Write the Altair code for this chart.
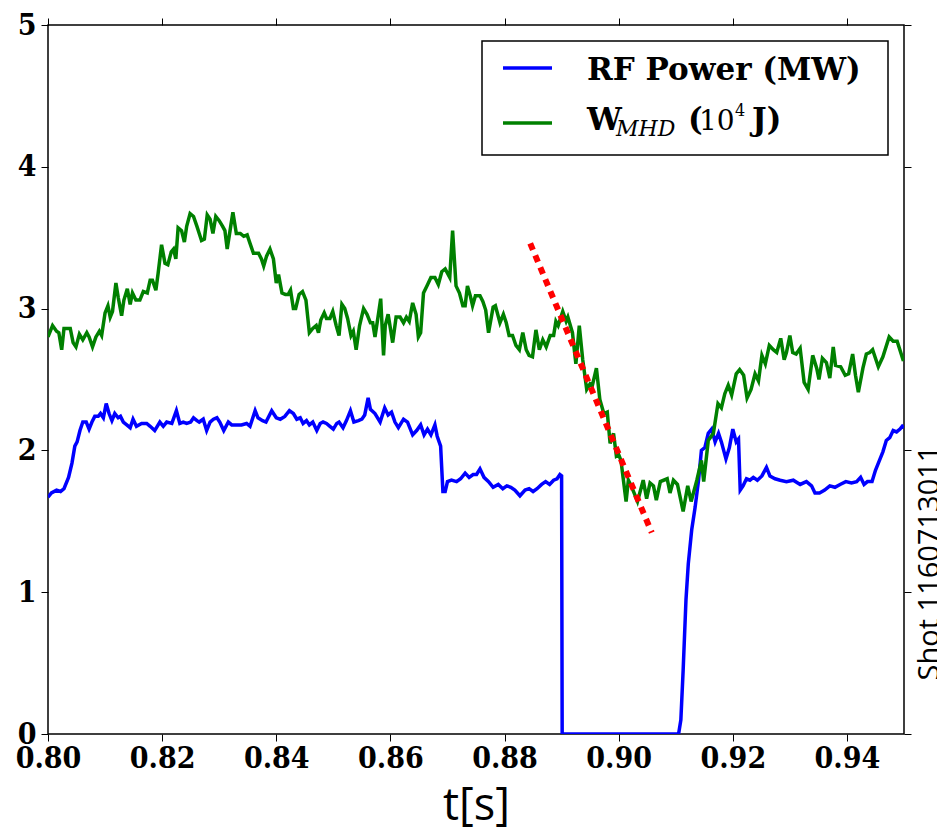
import altair as alt
import pandas as pd

# ---------------- data ----------------
t_rf = [0.8000, 0.8006, 0.8015, 0.8022, 0.8028, 0.8036, 0.8042, 0.8047, 0.8051, 0.8056,
        0.8061, 0.8067, 0.8072, 0.8077, 0.8082, 0.8088, 0.8092, 0.8097, 0.8102, 0.8107,
        0.8112, 0.8117, 0.8123, 0.8127, 0.8132, 0.8138, 0.8144, 0.8149, 0.8155, 0.8164,
        0.8173, 0.8179, 0.8187, 0.8196, 0.8202, 0.8208, 0.8217, 0.8225, 0.8231, 0.8237,
        0.8243, 0.8250, 0.8255, 0.8261, 0.8265, 0.8272, 0.8278, 0.8284, 0.8290, 0.8296,
        0.8301, 0.8308, 0.8316, 0.8322, 0.8331, 0.8339, 0.8348, 0.8354, 0.8363, 0.8368,
        0.8376, 0.8382, 0.8392, 0.8400, 0.8407, 0.8415, 0.8423, 0.8430, 0.8436, 0.8442,
        0.8447, 0.8453, 0.8458, 0.8464, 0.8471, 0.8477, 0.8482, 0.8488, 0.8494, 0.8500,
        0.8506, 0.8510, 0.8517, 0.8523, 0.8530, 0.8536, 0.8544, 0.8550, 0.8555, 0.8561,
        0.8565, 0.8573, 0.8582, 0.8590, 0.8596, 0.8602, 0.8608, 0.8614, 0.8623, 0.8630,
        0.8639, 0.8646, 0.8653, 0.8659, 0.8665, 0.8671, 0.8678, 0.8682, 0.8688, 0.8692,
        0.8696, 0.8700, 0.8707, 0.8716, 0.8723, 0.8731, 0.8738, 0.8745, 0.8751, 0.8757,
        0.8764, 0.8772, 0.8780, 0.8789, 0.8797, 0.8804, 0.8811, 0.8818, 0.8827, 0.8836,
        0.8843, 0.8850, 0.8857, 0.8865, 0.8872, 0.8879, 0.8886, 0.8892, 0.8897, 0.8900,
        0.8901, 0.9000, 0.9105, 0.9109, 0.9113, 0.9118, 0.9122, 0.9128, 0.9134, 0.9140,
        0.9145, 0.9151, 0.9157, 0.9163, 0.9169, 0.9175, 0.9180, 0.9188, 0.9194, 0.9200,
        0.9206, 0.9210, 0.9213, 0.9218, 0.9224, 0.9230, 0.9236, 0.9243, 0.9251, 0.9259,
        0.9265, 0.9274, 0.9283, 0.9294, 0.9306, 0.9318, 0.9329, 0.9338, 0.9344, 0.9352,
        0.9361, 0.9370, 0.9379, 0.9388, 0.9398, 0.9408, 0.9417, 0.9424, 0.9430, 0.9436,
        0.9444, 0.9450, 0.9457, 0.9463, 0.9469, 0.9475, 0.9481, 0.9487, 0.9493, 0.9497,
        0.9500]
p_rf = [1.67, 1.70, 1.72, 1.71, 1.73, 1.81, 1.91, 2.03, 2.06, 2.14,
        2.20, 2.20, 2.15, 2.20, 2.24, 2.24, 2.26, 2.23, 2.33, 2.26,
        2.21, 2.26, 2.23, 2.24, 2.20, 2.18, 2.16, 2.22, 2.17, 2.19,
        2.19, 2.17, 2.14, 2.20, 2.17, 2.20, 2.19, 2.28, 2.19, 2.20,
        2.19, 2.20, 2.23, 2.21, 2.20, 2.22, 2.14, 2.20, 2.22, 2.23,
        2.20, 2.14, 2.20, 2.18, 2.18, 2.18, 2.19, 2.17, 2.28, 2.23,
        2.21, 2.20, 2.28, 2.23, 2.22, 2.24, 2.28, 2.26, 2.22, 2.23,
        2.19, 2.21, 2.18, 2.20, 2.14, 2.19, 2.20, 2.19, 2.17, 2.15,
        2.19, 2.20, 2.16, 2.21, 2.28, 2.20, 2.21, 2.22, 2.25, 2.37,
        2.29, 2.26, 2.20, 2.30, 2.25, 2.27, 2.20, 2.16, 2.22, 2.20,
        2.11, 2.14, 2.18, 2.11, 2.15, 2.11, 2.18, 2.10, 2.03, 1.71,
        1.71, 1.78, 1.79, 1.78, 1.80, 1.84, 1.81, 1.83, 1.83, 1.87,
        1.81, 1.78, 1.74, 1.76, 1.73, 1.75, 1.74, 1.72, 1.68, 1.72,
        1.73, 1.71, 1.73, 1.76, 1.78, 1.76, 1.79, 1.80, 1.83, 1.82,
        0.00, 0.00, 0.00, 0.10, 0.45, 0.95, 1.20, 1.44, 1.60, 1.79,
        2.00, 2.02, 2.12, 2.15, 2.06, 2.12, 2.06, 1.94, 2.02, 2.15,
        2.06, 2.08, 1.72, 1.75, 1.80, 1.79, 1.81, 1.79, 1.82, 1.88,
        1.82, 1.80, 1.79, 1.78, 1.79, 1.76, 1.78, 1.75, 1.70, 1.70,
        1.72, 1.75, 1.74, 1.76, 1.78, 1.77, 1.78, 1.81, 1.76, 1.78,
        1.78, 1.86, 1.93, 1.99, 2.07, 2.09, 2.14, 2.13, 2.15, 2.17,
        2.16]

t_w = [0.8000, 0.8008, 0.8015, 0.8019, 0.8024, 0.8028, 0.8039, 0.8044, 0.8049, 0.8055,
       0.8061, 0.8068, 0.8072, 0.8078, 0.8084, 0.8090, 0.8094, 0.8100, 0.8105, 0.8109,
       0.8113, 0.8119, 0.8123, 0.8129, 0.8133, 0.8139, 0.8144, 0.8148, 0.8154, 0.8161,
       0.8167, 0.8174, 0.8179, 0.8183, 0.8189, 0.8193, 0.8199, 0.8205, 0.8210, 0.8216,
       0.8220, 0.8224, 0.8228, 0.8234, 0.8239, 0.8243, 0.8249, 0.8255, 0.8261, 0.8265,
       0.8269, 0.8274, 0.8279, 0.8284, 0.8289, 0.8294, 0.8300, 0.8306, 0.8310, 0.8314,
       0.8319, 0.8324, 0.8330, 0.8337, 0.8343, 0.8349, 0.8354, 0.8360, 0.8369, 0.8374,
       0.8378, 0.8383, 0.8389, 0.8395, 0.8400, 0.8404, 0.8410, 0.8416, 0.8421, 0.8425,
       0.8430, 0.8434, 0.8440, 0.8446, 0.8452, 0.8458, 0.8464, 0.8470, 0.8474, 0.8478,
       0.8484, 0.8488, 0.8494, 0.8499, 0.8505, 0.8510, 0.8515, 0.8520, 0.8525, 0.8531,
       0.8535, 0.8540, 0.8546, 0.8553, 0.8559, 0.8565, 0.8569, 0.8573, 0.8579, 0.8583,
       0.8588, 0.8591, 0.8596, 0.8604, 0.8610, 0.8617, 0.8623, 0.8628, 0.8633, 0.8639,
       0.8645, 0.8649, 0.8653, 0.8658, 0.8664, 0.8671, 0.8678, 0.8684, 0.8690, 0.8696,
       0.8704, 0.8709, 0.8715, 0.8721, 0.8727, 0.8731, 0.8735, 0.8740, 0.8744, 0.8749,
       0.8757, 0.8762, 0.8767, 0.8772, 0.8780, 0.8784, 0.8792, 0.8798, 0.8803, 0.8808,
       0.8814, 0.8820, 0.8826, 0.8832, 0.8838, 0.8843, 0.8849, 0.8855, 0.8861, 0.8867,
       0.8873, 0.8880, 0.8886, 0.8890, 0.8894, 0.8902, 0.8908, 0.8911, 0.8919, 0.8925,
       0.8931, 0.8937, 0.8944, 0.8950, 0.8954, 0.8961, 0.8967, 0.8974, 0.8980, 0.8985,
       0.8991, 0.8996, 0.9000, 0.9004, 0.9013, 0.9017, 0.9022, 0.9027, 0.9033, 0.9043,
       0.9049, 0.9055, 0.9061, 0.9066, 0.9073, 0.9085, 0.9090, 0.9096, 0.9103, 0.9113,
       0.9121, 0.9127, 0.9137, 0.9145, 0.9149, 0.9157, 0.9166, 0.9174, 0.9180, 0.9186,
       0.9192, 0.9198, 0.9206, 0.9212, 0.9219, 0.9225, 0.9232, 0.9239, 0.9245, 0.9251,
       0.9257, 0.9264, 0.9271, 0.9277, 0.9284, 0.9290, 0.9294, 0.9300, 0.9305, 0.9311,
       0.9318, 0.9325, 0.9332, 0.9340, 0.9347, 0.9351, 0.9357, 0.9364, 0.9370, 0.9376,
       0.9380, 0.9389, 0.9397, 0.9403, 0.9410, 0.9415, 0.9420, 0.9428, 0.9434, 0.9440,
       0.9445, 0.9455, 0.9463, 0.9474, 0.9481, 0.9488, 0.9499]
w_mhd = [2.80, 2.88, 2.84, 2.83, 2.71, 2.86, 2.86, 2.76, 2.73, 2.82,
         2.78, 2.83, 2.80, 2.73, 2.80, 2.84, 2.81, 2.97, 3.02, 2.94,
         2.98, 3.18, 3.08, 2.95, 3.06, 3.14, 3.03, 3.11, 3.06, 3.06,
         3.12, 3.11, 3.20, 3.20, 3.13, 3.25, 3.45, 3.32, 3.31, 3.40,
         3.42, 3.35, 3.57, 3.55, 3.47, 3.58, 3.67, 3.65, 3.58, 3.53,
         3.48, 3.49, 3.66, 3.63, 3.53, 3.65, 3.62, 3.58, 3.55, 3.42,
         3.55, 3.68, 3.53, 3.53, 3.51, 3.52, 3.46, 3.39, 3.39, 3.35,
         3.30, 3.37, 3.42, 3.35, 3.18, 3.24, 3.11, 3.10, 3.10, 3.13,
         3.00, 3.00, 3.10, 3.12, 3.06, 2.83, 2.86, 2.88, 2.83, 2.92,
         2.97, 2.93, 2.93, 2.98, 2.88, 2.81, 3.03, 3.00, 2.93, 2.81,
         2.84, 2.71, 2.88, 3.00, 2.96, 2.90, 2.90, 2.80, 2.96, 3.07,
         2.67, 2.88, 2.96, 2.76, 2.94, 2.94, 2.90, 2.94, 2.91, 3.04,
         2.96, 2.80, 2.83, 3.11, 3.16, 3.22, 3.22, 3.17, 3.26, 3.28,
         3.22, 3.55, 3.16, 3.11, 3.02, 3.02, 3.16, 3.09, 3.02, 3.09,
         3.09, 3.05, 2.99, 2.83, 3.01, 3.02, 2.90, 2.96, 2.90, 2.81,
         2.81, 2.74, 2.71, 2.83, 2.71, 2.67, 2.66, 2.85, 2.71, 2.78,
         2.73, 2.81, 2.81, 2.91, 2.88, 2.98, 2.91, 2.94, 2.83, 2.61,
         2.88, 2.64, 2.43, 2.47, 2.46, 2.58, 2.36, 2.26, 2.27, 2.05,
         2.12, 1.96, 1.97, 1.93, 1.64, 1.79, 1.75, 1.70, 1.64, 1.79,
         1.66, 1.77, 1.75, 1.65, 1.78, 1.80, 1.70, 1.79, 1.76, 1.57,
         1.75, 1.64, 1.79, 1.93, 1.78, 2.07, 2.12, 2.33, 2.30, 2.40,
         2.46, 2.39, 2.54, 2.57, 2.53, 2.37, 2.43, 2.54, 2.49, 2.67,
         2.61, 2.74, 2.71, 2.69, 2.79, 2.64, 2.69, 2.81, 2.69, 2.68,
         2.72, 2.48, 2.43, 2.67, 2.58, 2.50, 2.65, 2.62, 2.51, 2.73,
         2.60, 2.59, 2.53, 2.54, 2.68, 2.53, 2.41, 2.58, 2.68, 2.69,
         2.71, 2.59, 2.66, 2.80, 2.77, 2.77, 2.63]

t_fit = [0.8845, 0.9058]
w_fit = [3.46, 1.42]

x_ticks = [0.80, 0.82, 0.84, 0.86, 0.88, 0.90, 0.92, 0.94]
y_ticks = [0, 1, 2, 3, 4, 5]

legend_rf = "RF Power (MW)"
shot_label = "Shot  1160713011"

# ---------------- chart ----------------
W, H = 856, 709
SERIF_C = "DejaVu Serif Condensed, DejaVu Serif, serif"
SERIF = "DejaVu Serif, serif"

df_rf = pd.DataFrame({"t": t_rf, "v": p_rf})
df_w = pd.DataFrame({"t": t_w, "v": w_mhd})
df_fit = pd.DataFrame({"t": t_fit, "v": w_fit})
one = pd.DataFrame({"a": [0]})

xs = alt.Scale(domain=[0.80, 0.95], nice=False, zero=False)
ys = alt.Scale(domain=[0, 5], nice=False, zero=False)

xax = alt.Axis(values=x_ticks, format=".2f", title="t[s]", domain=False,
               tickSize=7, tickColor="black", tickWidth=1, grid=False,
               labelFont=SERIF_C, labelFontWeight="bold", labelFontSize=30,
               labelColor="black", labelPadding=2, labelFlush=False,
               titleFont="Open Sans", titleFontWeight="normal", titleFontSize=45,
               titleColor="black", titlePadding=10)
yax = alt.Axis(values=y_ticks, format="d", title=None, domain=False,
               tickSize=7, tickColor="black", tickWidth=1, grid=False,
               labelFont=SERIF_C, labelFontWeight="bold", labelFontSize=30,
               labelColor="black", labelPadding=5, labelFlush=False)


def series(df, color, width, dash=None):
    kw = dict(color=color, strokeWidth=width, clip=True)
    if dash:
        kw["strokeDash"] = dash
    return alt.Chart(df).mark_line(**kw).encode(
        x=alt.X("t:Q", scale=xs, axis=xax),
        y=alt.Y("v:Q", scale=ys, axis=yax),
    )


main = alt.layer(
    series(df_rf, "#0000ff", 3.5),
    series(df_w, "#008000", 3.5),
    series(df_fit, "#ff0000", 6, [7, 6]),
)

mirror = alt.Chart(df_fit).mark_point(opacity=0).encode(
    x=alt.X("t:Q", scale=xs, axis=alt.Axis(orient="top", values=x_ticks, labels=False,
                                           title=None, domain=False, tickSize=7,
                                           tickColor="black", grid=False)),
    y=alt.Y("v:Q", scale=ys, axis=alt.Axis(orient="right", values=y_ticks, labels=False,
                                           title=None, domain=False, tickSize=7,
                                           tickColor="black", grid=False)),
)

# manual legend (box + swatches + rich text)
box = alt.Chart(one).mark_rect(fill="white", stroke="black", strokeWidth=1.5).encode(
    x=alt.value(434), x2=alt.value(840), y=alt.value(16), y2=alt.value(130))
sw_rf = alt.Chart(one).mark_rule(color="#0000ff", strokeWidth=3.5).encode(
    x=alt.value(455), x2=alt.value(504), y=alt.value(43))
sw_w = alt.Chart(one).mark_rule(color="#008000", strokeWidth=3.5).encode(
    x=alt.value(455), x2=alt.value(504), y=alt.value(98))


def txt(s, x, y, size, weight="bold", style="normal", font=SERIF, angle=0, align="left",
        baseline="alphabetic"):
    return alt.Chart(one).mark_text(
        text=s, font=font, fontSize=size, fontWeight=weight, fontStyle=style,
        align=align, baseline=baseline, angle=angle, color="black"
    ).encode(x=alt.value(x), y=alt.value(y))


leg_txt = [
    txt(legend_rf, 539, 55, 31),
    txt("W", 539, 105, 31),
    txt("MHD", 568, 111, 22, weight="normal", style="italic"),
    txt("(", 640, 105, 31),
    txt("10", 651, 105, 28, weight="normal"),
    txt("4", 687, 91, 16, weight="normal"),
    txt("J)", 704, 105, 31),
]

shot = txt(shot_label, 882, 538, 29, weight="normal", font="Open Sans", angle=270,
           align="center", baseline="middle")

chart = alt.layer(main, mirror, box, sw_rf, sw_w, *leg_txt, shot).resolve_scale(
    x="independent", y="independent"
).properties(
    width=W, height=H,
    padding={"left": 48, "top": 25, "right": 33, "bottom": 98},
    autosize=alt.AutoSizeParams(type="none"),
    background="white",
).configure_view(stroke="black", strokeWidth=1.5)

chart.save("out.html", embed_options={"renderer": "svg", "actions": False})
